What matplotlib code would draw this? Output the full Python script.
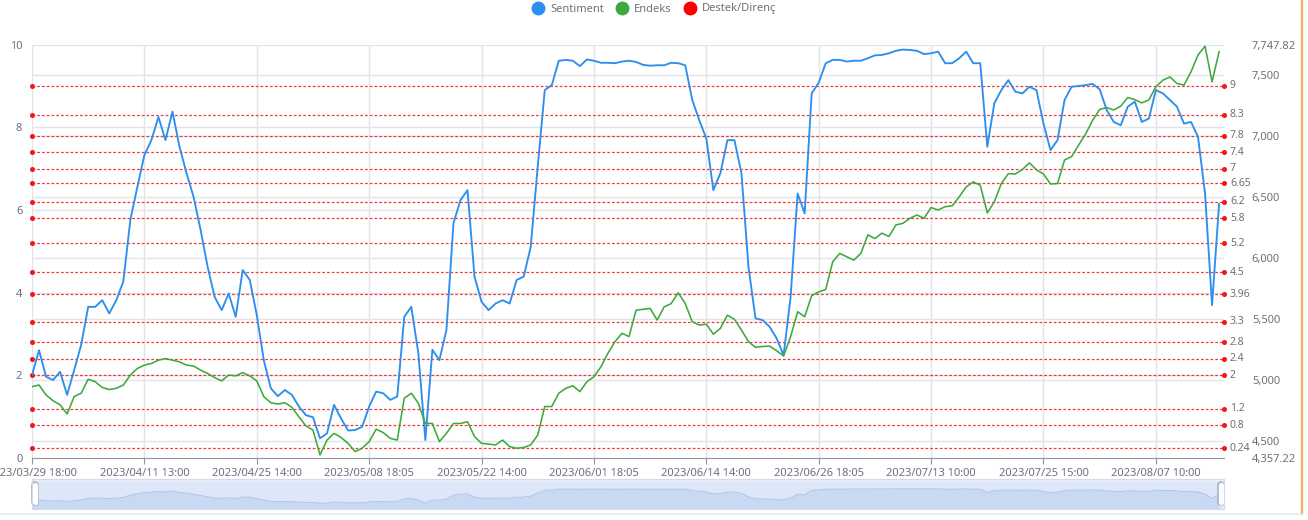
import matplotlib
matplotlib.use("Agg")
import matplotlib.pyplot as plt
from matplotlib.lines import Line2D
from matplotlib.ticker import FuncFormatter
from matplotlib.transforms import blended_transform_factory

plt.rcParams["font.family"] = ["Noto Sans", "DejaVu Sans"]

# x axis: one label every 16 samples
tick_labels = [
    "2023/03/29 18:00", "2023/04/11 13:00", "2023/04/25 14:00", "2023/05/08 18:05",
    "2023/05/22 14:00", "2023/06/01 18:05", "2023/06/14 14:00", "2023/06/26 18:05",
    "2023/07/13 10:00", "2023/07/25 15:00", "2023/08/07 10:00",
]
tick_step = 16

sentiment = [
    2.01, 2.61, 1.97, 1.89, 2.09, 1.53, 2.13, 2.74, 3.66, 3.66,
    3.82, 3.50, 3.82, 4.27, 5.76, 6.56, 7.33, 7.69, 8.25, 7.69,
    8.38, 7.53, 6.89, 6.32, 5.52, 4.63, 3.90, 3.58, 3.98, 3.42,
    4.55, 4.31, 3.46, 2.37, 1.69, 1.50, 1.65, 1.53, 1.25, 1.04,
    0.99, 0.48, 0.60, 1.29, 0.96, 0.67, 0.68, 0.76, 1.25, 1.61,
    1.57, 1.41, 1.49, 3.42, 3.66, 2.54, 0.44, 2.62, 2.37, 3.10,
    5.68, 6.24, 6.48, 4.39, 3.78, 3.58, 3.74, 3.82, 3.74, 4.31,
    4.39, 5.11, 7.05, 8.90, 9.02, 9.61, 9.63, 9.61, 9.48, 9.64,
    9.61, 9.56, 9.56, 9.55, 9.59, 9.61, 9.58, 9.51, 9.49, 9.50,
    9.50, 9.56, 9.55, 9.50, 8.66, 8.17, 7.73, 6.48, 6.89, 7.69,
    7.69, 6.89, 4.63, 3.38, 3.34, 3.18, 2.90, 2.49, 3.90, 6.40,
    5.92, 8.82, 9.08, 9.55, 9.63, 9.63, 9.59, 9.61, 9.61, 9.67,
    9.74, 9.75, 9.79, 9.85, 9.88, 9.87, 9.85, 9.77, 9.79, 9.83,
    9.55, 9.55, 9.67, 9.83, 9.55, 9.55, 7.53, 8.58, 8.90, 9.14,
    8.86, 8.82, 8.98, 8.90, 8.09, 7.45, 7.69, 8.66, 8.98, 9.00,
    9.02, 9.05, 8.92, 8.42, 8.13, 8.05, 8.50, 8.62, 8.13, 8.21,
    8.90, 8.82, 8.66, 8.50, 8.09, 8.13, 7.77, 6.40, 3.70, 6.15,
]

endeks = [
    4944, 4957, 4876, 4828, 4795, 4720, 4862, 4890, 5005, 4984,
    4937, 4920, 4930, 4957, 5039, 5093, 5120, 5134, 5161, 5174,
    5161, 5147, 5120, 5113, 5079, 5052, 5018, 4991, 5039, 5032,
    5059, 5032, 4991, 4862, 4812, 4801, 4812, 4774, 4696, 4622,
    4588, 4384, 4506, 4561, 4527, 4479, 4411, 4439, 4493, 4595,
    4567, 4520, 4506, 4849, 4890, 4808, 4642, 4642, 4493, 4561,
    4642, 4642, 4656, 4534, 4479, 4473, 4466, 4506, 4452, 4439,
    4445, 4466, 4547, 4781, 4781, 4890, 4930, 4951, 4903, 4984,
    5025, 5107, 5218, 5313, 5381, 5354, 5571, 5578, 5585, 5490,
    5598, 5625, 5713, 5625, 5476, 5449, 5456, 5374, 5422, 5530,
    5496, 5408, 5313, 5266, 5273, 5276, 5239, 5195, 5354, 5558,
    5517, 5690, 5720, 5741, 5968, 6036, 6008, 5981, 6036, 6188,
    6158, 6202, 6175, 6270, 6283, 6324, 6351, 6324, 6412, 6392,
    6419, 6426, 6500, 6581, 6622, 6595, 6368, 6459, 6609, 6690,
    6687, 6724, 6778, 6721, 6687, 6605, 6609, 6802, 6829, 6924,
    7015, 7127, 7216, 7232, 7212, 7243, 7314, 7297, 7270, 7294,
    7402, 7456, 7483, 7429, 7416, 7524, 7663, 7735, 7443, 7690,
]

levels = [9, 8.3, 7.8, 7.4, 7, 6.65, 6.2, 5.8, 5.2, 4.5, 3.96, 3.3, 2.8, 2.4, 2, 1.2, 0.8, 0.24]

endeks_min, endeks_max = 4357.22, 7747.82
endeks_ticks = [4357.22, 4500, 5000, 5500, 6000, 6500, 7000, 7500, 7747.82]
endeks_grid = [4500, 5000, 5500, 6000, 6500, 7000, 7500]

BLUE = "#2c8ff0"
GREEN = "#3eaa3e"
RED = "#f01818"
TXT = "#6e7079"
GRID = "#e2e4e8"

W, H = 1308, 520
fig = plt.figure(figsize=(W / 100, H / 100), dpi=100)
ax = fig.add_axes([32 / W, (H - 458.2) / H, 1192 / W, 413.6 / H])
ax2 = ax.twinx()

x = list(range(len(sentiment)))
xmax = len(sentiment) - 0.3

ax.set_xlim(0, xmax)
ax.set_ylim(0, 10)
ax2.set_ylim(endeks_min, endeks_max)

# split lines
for v in [2, 4, 6, 8, 10]:
    ax.axhline(v, color=GRID, lw=1, zorder=0)
right_tr = blended_transform_factory(ax.transAxes, ax2.transData)
for v in endeks_grid:
    ax.plot([0, 1], [v, v], color=GRID, lw=1, transform=right_tr, zorder=0)
for k in range(len(tick_labels)):
    ax.axvline(k * tick_step, color=GRID, lw=1, zorder=0)

# support / resistance
ax.hlines(levels, 0, xmax, colors=RED, linestyles=(0, (2.2, 1.6)), lw=0.9, alpha=0.85, zorder=1)
ax.plot([0] * len(levels), levels, "o", color=RED, ms=2.6, clip_on=False, zorder=3)
ax.plot([xmax] * len(levels), levels, "o", color=RED, ms=2.6, clip_on=False, zorder=3)
lvl_tr = blended_transform_factory(ax.transAxes, ax.transData)
for v in levels:
    ax.text(1.005, v, f"{v:g}", transform=lvl_tr, ha="left", va="center", fontsize=7.5, color=TXT)

ax.plot(x, sentiment, color=BLUE, lw=1.35, zorder=4)
ax2.plot(x, endeks, color=GREEN, lw=1.15, zorder=4)

for side in ["top", "right", "left"]:
    ax.spines[side].set_visible(False)
    ax2.spines[side].set_visible(False)
ax2.spines["bottom"].set_visible(False)
ax.spines["bottom"].set_color("#8f939a")

ax.set_xticks([k * tick_step for k in range(len(tick_labels))])
ax.set_xticklabels(tick_labels)
ax.tick_params(axis="x", length=4, color="#8f939a", labelsize=8, labelcolor=TXT, pad=3)
ax.set_yticks([0, 2, 4, 6, 8, 10])
ax.tick_params(axis="y", length=0, labelsize=8, labelcolor=TXT, pad=7)

ax2.set_yticks(endeks_ticks)
ax2.yaxis.set_major_formatter(FuncFormatter(lambda v, p: f"{v:,.2f}" if v % 1 else f"{v:,.0f}"))
ax2.tick_params(axis="y", length=0, labelsize=8, labelcolor=TXT, pad=20)

# legend
handles = [
    Line2D([], [], ls="", marker="o", ms=9, color=BLUE),
    Line2D([], [], ls="", marker="o", ms=9, color=GREEN),
    Line2D([], [], ls="", marker="o", ms=9, color="#ff0000"),
]
leg = fig.legend(handles, ["Sentiment", "Endeks", "Destek/Direnç"], loc="center",
                 bbox_to_anchor=(0.5, 1 - 9 / H), ncol=3, frameon=False, fontsize=8,
                 handletextpad=0.5, columnspacing=1.0, handlelength=1.2)
for t in leg.get_texts():
    t.set_color(TXT)

# data zoom slider
axs = fig.add_axes([32 / W, (H - 509) / H, 1192 / W, 30 / H])
axs.set_xlim(0, xmax)
axs.set_ylim(-3.25, 16.2)
axs.set_facecolor("#dde7f8")
axs.fill_between(x, sentiment, -3.25, color="#c9d8f3", lw=0)
axs.plot(x, sentiment, color="#b3c7ec", lw=0.8)
axs.axhspan(14.4, 16.2, color="#e8eefa", lw=0)
for s in axs.spines.values():
    s.set_color("#d2dbee")
axs.set_xticks([])
axs.set_yticks([])
for hx in [0.4, xmax - 0.4]:
    axs.plot([hx, hx], [1.5, 12.5], color="#a9b3c4", lw=5.5, solid_capstyle="round", clip_on=False)
    axs.plot([hx, hx], [1.5, 12.5], color="white", lw=3.8, solid_capstyle="round", clip_on=False)

# frame edges of the screenshot
fig.add_artist(Line2D([1302 / W, 1302 / W], [6 / H, 1], color="#f5ad55", lw=1.6))
fig.add_artist(Line2D([0, 1302 / W], [6 / H, 6 / H], color="#e4ecf0", lw=1.2))

fig.savefig("out.png", dpi=100)
